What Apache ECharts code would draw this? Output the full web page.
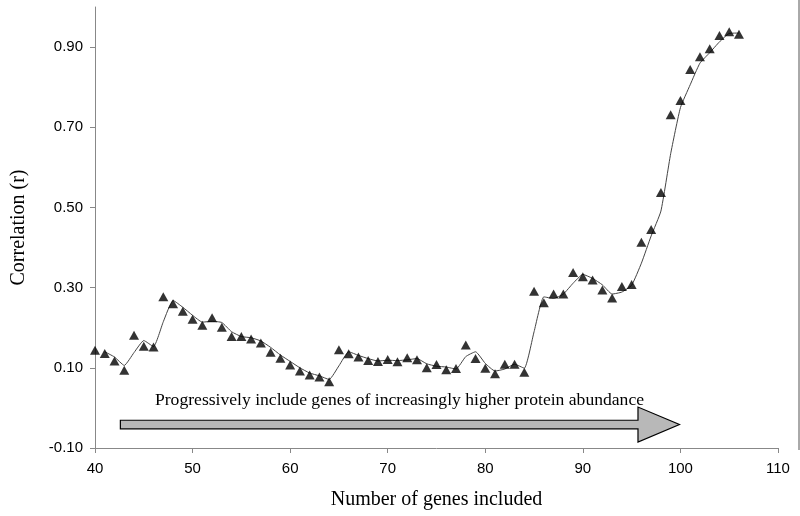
<!DOCTYPE html>
<html>
<head>
<meta charset="utf-8">
<script src="https://cdn.jsdelivr.net/npm/echarts@6/dist/echarts.min.js"></script>
<style>
html,body{margin:0;padding:0;background:#fff;}
#chart{width:800px;height:516px;}
</style>
</head>
<body>
<div id="chart"></div>
<script>
// Number of genes included (x)
var genes = [40,41,42,43,44,45,46,47,48,49,50,51,52,53,54,55,56,57,58,59,60,
  61,62,63,64,65,66,67,68,69,70,71,72,73,74,75,76,77,78,79,80,
  81,82,83,84,85,86,87,88,89,90,91,92,93,94,95,96,97,98,99,100,
  101,102,103,104,105,106];
// Correlation (r) for each point (triangles)
var correlation = [0.144,0.136,0.117,0.094,0.181,0.154,0.152,0.277,0.260,0.241,0.221,
  0.206,0.225,0.201,0.178,0.178,0.172,0.162,0.139,0.124,0.107,
  0.092,0.082,0.077,0.065,0.145,0.135,0.127,0.118,0.116,0.121,
  0.115,0.125,0.120,0.100,0.108,0.095,0.098,0.157,0.123,0.099,
  0.085,0.109,0.109,0.089,0.291,0.262,0.284,0.284,0.338,0.327,
  0.319,0.294,0.274,0.303,0.308,0.413,0.445,0.537,0.731,0.767,
  0.844,0.876,0.896,0.929,0.938,0.932];
// Trend line, starting at 41 genes
var trendGenes = [41,42,43,44,45,46,47,48,49,50,51,52,53,54,55,56,57,58,59,60,
  61,62,63,64,65,66,67,68,69,70,71,72,73,74,75,76,77,78,79,80,
  81,82,83,84,85,86,87,88,89,90,91,92,93,94,95,96,97,98,99,100,
  101,102,103,104,105,106];
var trendValues = [0.140,0.127,0.106,0.138,0.168,0.153,0.215,0.268,0.251,0.231,
  0.214,0.216,0.213,0.190,0.178,0.175,0.167,0.151,0.132,0.116,
  0.100,0.087,0.080,0.071,0.105,0.140,0.131,0.123,0.117,0.119,
  0.118,0.120,0.123,0.110,0.104,0.102,0.097,0.128,0.140,0.111,
  0.092,0.097,0.109,0.099,0.190,0.277,0.273,0.284,0.311,0.333,
  0.323,0.307,0.284,0.289,0.306,0.361,0.429,0.491,0.634,0.749,
  0.806,0.860,0.886,0.913,0.934,0.935];
var yTicks = [-0.1, 0.1, 0.3, 0.5, 0.7, 0.9];
var xTicks = [40, 50, 60, 70, 80, 90, 100, 110];
var arrowText = 'Progressively include genes of increasingly higher protein abundance';

function zip(a, b) { return a.map(function (v, i) { return [v, b[i]]; }); }

var chart = echarts.init(document.getElementById('chart'));
var sans = 'Liberation Sans, Arial, sans-serif';
var serif = 'Liberation Serif, Times New Roman, serif';
chart.setOption({
  animation: false,
  backgroundColor: '#fff',
  grid: { left: 95, right: 22, top: 7, bottom: 68 },
  xAxis: {
    type: 'value', min: 40, max: 110, interval: 10,
    name: 'Number of genes included', nameLocation: 'middle', nameGap: 42,
    nameTextStyle: { fontFamily: serif, fontSize: 20, color: '#000' },
    axisLine: { onZero: false, lineStyle: { color: '#888', width: 1 } },
    axisTick: { show: true, length: 5, lineStyle: { color: '#888' }, customValues: xTicks },
    axisLabel: { fontFamily: sans, fontSize: 15, color: '#000', margin: 13, customValues: xTicks },
    splitLine: { show: false }
  },
  yAxis: {
    type: 'value', min: -0.1, max: 1.0, interval: 0.2,
    name: 'Correlation (r)', nameLocation: 'middle', nameGap: 66,
    nameTextStyle: { fontFamily: serif, fontSize: 20, color: '#000' },
    axisLine: { show: true, onZero: false, lineStyle: { color: '#888', width: 1 } },
    axisTick: { show: true, length: 5, lineStyle: { color: '#888' }, customValues: yTicks },
    axisLabel: {
      fontFamily: sans, fontSize: 15, color: '#000', margin: 12, customValues: yTicks,
      formatter: function (v) { return v.toFixed(2); }
    },
    splitLine: { show: false }
  },
  series: [
    {
      type: 'line', data: zip(trendGenes, trendValues), symbol: 'none', smooth: 0.15,
      lineStyle: { color: '#444', width: 1 }, z: 2
    },
    {
      type: 'scatter', data: zip(genes, correlation), symbol: 'triangle', symbolSize: [10, 9],
      itemStyle: { color: '#000' }, z: 3
    }
  ]
});

// Arrow annotation positioned in data space
var tail = chart.convertToPixel({ gridIndex: 0 }, [42.6, -0.0415]);
var base = chart.convertToPixel({ gridIndex: 0 }, [95.65, -0.0415]);
var tip = chart.convertToPixel({ gridIndex: 0 }, [99.9, -0.0415]);
var cy = tail[1], sh = 4.3, hh = 17.5;
chart.setOption({
  graphic: [
    {
      type: 'polygon', z: 10,
      shape: { points: [
        [tail[0], cy - sh], [base[0], cy - sh], [base[0], cy - hh], [tip[0], cy],
        [base[0], cy + hh], [base[0], cy + sh], [tail[0], cy + sh]
      ] },
      style: { fill: '#b8b8b8', stroke: '#000', lineWidth: 1.2 }
    },
    {
      type: 'text', z: 11, x: 399.5, y: 400,
      style: { text: arrowText, font: '17.6px ' + serif, fill: '#000', align: 'center', verticalAlign: 'middle' }
    },
    {
      type: 'line', z: 1,
      shape: { x1: 799, y1: 0, x2: 799, y2: 450 },
      style: { stroke: '#555', lineWidth: 1 }
    }
  ]
});
</script>
</body>
</html>
